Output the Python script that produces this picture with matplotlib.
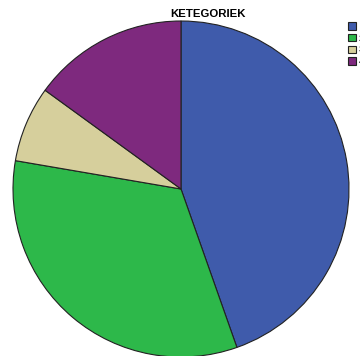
import matplotlib
matplotlib.use('Agg')
from matplotlib import pyplot as plt

categories = ['1', '2', '3', '4']
shares = [44.6, 33.1, 7.3, 15.0]
colors = ['#3f5bab', '#2db84a', '#d6cf9c', '#7e297e']

plt.rcParams['font.family'] = ['Liberation Sans', 'DejaVu Sans']

fig = plt.figure(figsize=(3.6, 3.56), dpi=100)
ax = fig.add_axes([0, 0, 1, 1])

wedges, _ = ax.pie(shares, colors=colors, startangle=90, counterclock=False,
                   center=(181, 167), radius=168, frame=True,
                   wedgeprops={'edgecolor': '#222222', 'linewidth': 0.8})
ax.set_xlim(0, 360)
ax.set_ylim(0, 356)
ax.set_aspect('equal')
ax.axis('off')

ax.text(208, 342, 'KETEGORIEK', ha='center', va='center',
        fontsize=8.2, fontweight='bold')

leg = ax.legend(wedges, categories, loc='upper left',
                bbox_to_anchor=(348 / 360, 1 - 22 / 356),
                frameon=False, fontsize=6.5, handlelength=0.9, handleheight=0.9,
                handletextpad=0.3, labelspacing=0.3, borderpad=0, borderaxespad=0)

fig.savefig('out.png', dpi=100)
